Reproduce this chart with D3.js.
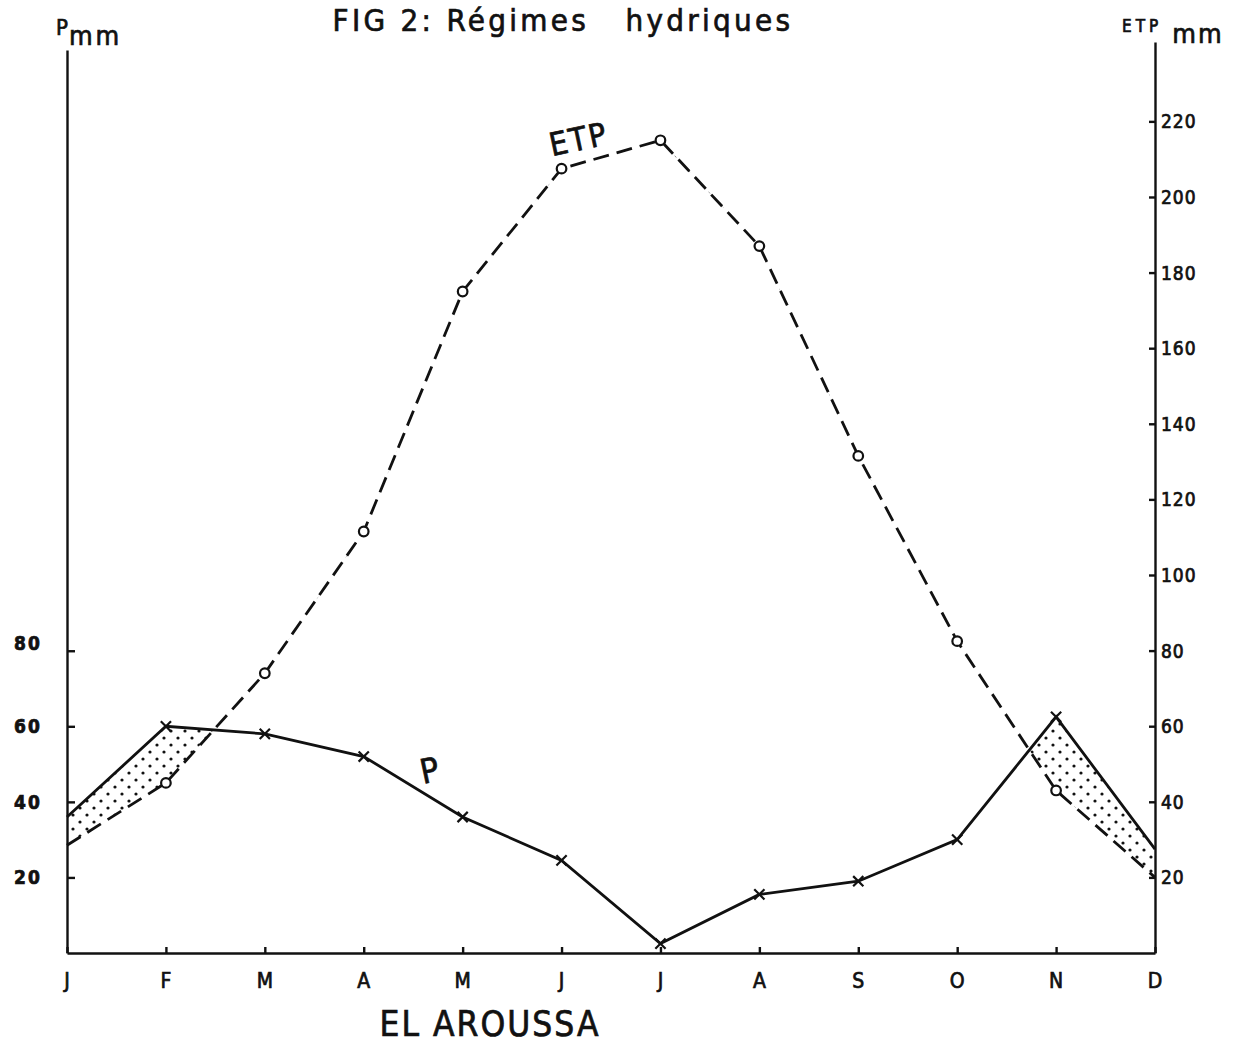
<!DOCTYPE html>
<html>
<head>
<meta charset="utf-8">
<script src="https://cdn.jsdelivr.net/npm/d3@7"></script>
<style>
  html, body { margin: 0; padding: 0; background: #fff; }
  svg { display: block; }
  text { font-family: "DejaVu Sans Condensed", "DejaVu Sans", sans-serif; font-stretch: condensed; fill: #111; stroke: #111; stroke-width: 0.7px; }
</style>
</head>
<body>
<svg id="chart" width="1240" height="1048"></svg>
<script>
// Monthly water regime at El Aroussa: rainfall P and potential evapotranspiration ETP (mm)
const months = ["J", "F", "M", "A", "M", "J", "J", "A", "S", "O", "N", "D"];
const precip = [36, 60, 58, 52, 36, 24.5, 2.5, 15.5, 19, 30, 62.5, 27.5];
const etp = [28.5, 45, 74, 111.5, 175, 207.5, 215, 187, 131.5, 82.5, 43, 20];
const leftTicks = [20, 40, 60, 80];
const rightTicks = [20, 40, 60, 80, 100, 120, 140, 160, 180, 200, 220];

const svg = d3.select("#chart");
const ink = "#111";

const x = d3.scaleLinear().domain([0, months.length - 1]).range([67, 1155]);
const yP = d3.scaleLinear().domain([0, 239]).range([953, 50]);
const yE = d3.scaleLinear().domain([0, 241]).range([953, 42]);

// stipple pattern for the months where rainfall exceeds ETP
const defs = svg.append("defs");
const pat = defs.append("pattern")
  .attr("id", "stipple").attr("patternUnits", "userSpaceOnUse")
  .attr("width", 14).attr("height", 14);
pat.append("circle").attr("cx", 3).attr("cy", 3).attr("r", 1.6).attr("fill", ink);
pat.append("circle").attr("cx", 10).attr("cy", 10).attr("r", 1.6).attr("fill", ink);

// surplus area: insert crossing points so the band closes exactly where the curves meet
const band = [];
for (let i = 0; i < months.length; i++) {
  band.push({ i: i, p: precip[i], e: etp[i] });
  if (i < months.length - 1) {
    const d0 = precip[i] - etp[i], d1 = precip[i + 1] - etp[i + 1];
    if (d0 * d1 < 0) {
      const t = d0 / (d0 - d1);
      const v = precip[i] + t * (precip[i + 1] - precip[i]);
      band.push({ i: i + t, p: v, e: v });
    }
  }
}
svg.append("path")
  .datum(band)
  .attr("fill", "url(#stipple)")
  .attr("d", d3.area()
    .x(d => x(d.i))
    .y0(d => yE(d.e))
    .y1(d => yP(Math.max(d.p, d.e))));

// axes
const leftAxis = d3.axisRight(yP).tickValues(leftTicks).tickSize(8).tickSizeOuter(0).tickFormat("");
const gL = svg.append("g").attr("transform", "translate(67,0)").call(leftAxis);
gL.selectAll("path, line").attr("stroke", ink).attr("stroke-width", 2.4);
svg.append("g").selectAll("text").data(leftTicks).join("text")
  .attr("x", 28).attr("y", d => yP(d) + 7 - (d === 80 ? 8 : 0))
  .attr("text-anchor", "middle").attr("font-size", 19).attr("font-weight", "bold")
  .attr("letter-spacing", 2)
  .text(d => d);

const rightAxis = d3.axisLeft(yE).tickValues(rightTicks).tickSize(6).tickSizeOuter(0).tickFormat("");
const gR = svg.append("g").attr("transform", "translate(1155,0)").call(rightAxis);
gR.selectAll("path, line").attr("stroke", ink).attr("stroke-width", 2.4);
svg.append("g").selectAll("text").data(rightTicks).join("text")
  .attr("x", 1161).attr("y", d => yE(d) + 7)
  .attr("font-size", 19).attr("letter-spacing", 1)
  .text(d => d);

const bottomAxis = d3.axisTop(x).tickValues(d3.range(months.length)).tickSize(6).tickSizeOuter(0).tickFormat("");
const gB = svg.append("g").attr("transform", "translate(0,953)").call(bottomAxis);
gB.selectAll("path, line").attr("stroke", ink).attr("stroke-width", 2.4);
svg.append("g").selectAll("text").data(months).join("text")
  .attr("x", (d, i) => x(i)).attr("y", 988)
  .attr("text-anchor", "middle").attr("font-size", 21)
  .text(d => d);

// ETP curve (dashed, open circles)
svg.append("path")
  .datum(etp)
  .attr("fill", "none").attr("stroke", ink).attr("stroke-width", 2.8)
  .attr("stroke-dasharray", "16 8")
  .attr("d", d3.line().x((d, i) => x(i)).y(d => yE(d)));
svg.append("g").selectAll("circle").data(etp.slice(1, -1)).join("circle")
  .attr("cx", (d, i) => x(i + 1)).attr("cy", d => yE(d)).attr("r", 4.8)
  .attr("fill", "#fff").attr("stroke", ink).attr("stroke-width", 2.2);

// rainfall curve (solid, crosses)
svg.append("path")
  .datum(precip)
  .attr("fill", "none").attr("stroke", ink).attr("stroke-width", 2.8)
  .attr("d", d3.line().x((d, i) => x(i)).y(d => yP(d)));
const cross = d3.symbol().type(d3.symbolX).size(70);
svg.append("g").selectAll("path").data(precip.slice(1, -1)).join("path")
  .attr("transform", (d, i) => `translate(${x(i + 1)},${yP(d)})`)
  .attr("d", cross).attr("fill", "none").attr("stroke", ink).attr("stroke-width", 2.2);

// titles and labels
svg.append("text").attr("x", 563).attr("y", 31).attr("text-anchor", "middle")
  .attr("font-size", 31).attr("letter-spacing", 3.3).attr("stroke-width", 1.1).attr("xml:space", "preserve")
  .text("FIG 2: Régimes   hydriques");

const pLab = svg.append("text").attr("x", 56).attr("y", 35).attr("font-size", 22);
pLab.append("tspan").text("P");
pLab.append("tspan").attr("dy", 10).attr("dx", 1).attr("font-size", 27).attr("letter-spacing", 3).text("mm");

const eLab = svg.append("text").attr("x", 1122).attr("y", 32).attr("font-size", 17).attr("letter-spacing", 4);
eLab.append("tspan").text("ETP");
eLab.append("tspan").attr("dy", 11).attr("dx", 10).attr("font-size", 27).attr("letter-spacing", 2).text("mm");

svg.append("text").attr("transform", "translate(581,150) rotate(-12)")
  .attr("text-anchor", "middle").attr("font-size", 32).attr("letter-spacing", 2).text("ETP");
svg.append("text").attr("transform", "translate(432,782) rotate(-12)")
  .attr("text-anchor", "middle").attr("font-size", 34).text("P");

svg.append("text").attr("x", 490).attr("y", 1036).attr("text-anchor", "middle")
  .attr("font-size", 35).attr("letter-spacing", 2).attr("stroke-width", 0.9).text("EL AROUSSA");
</script>
</body>
</html>
